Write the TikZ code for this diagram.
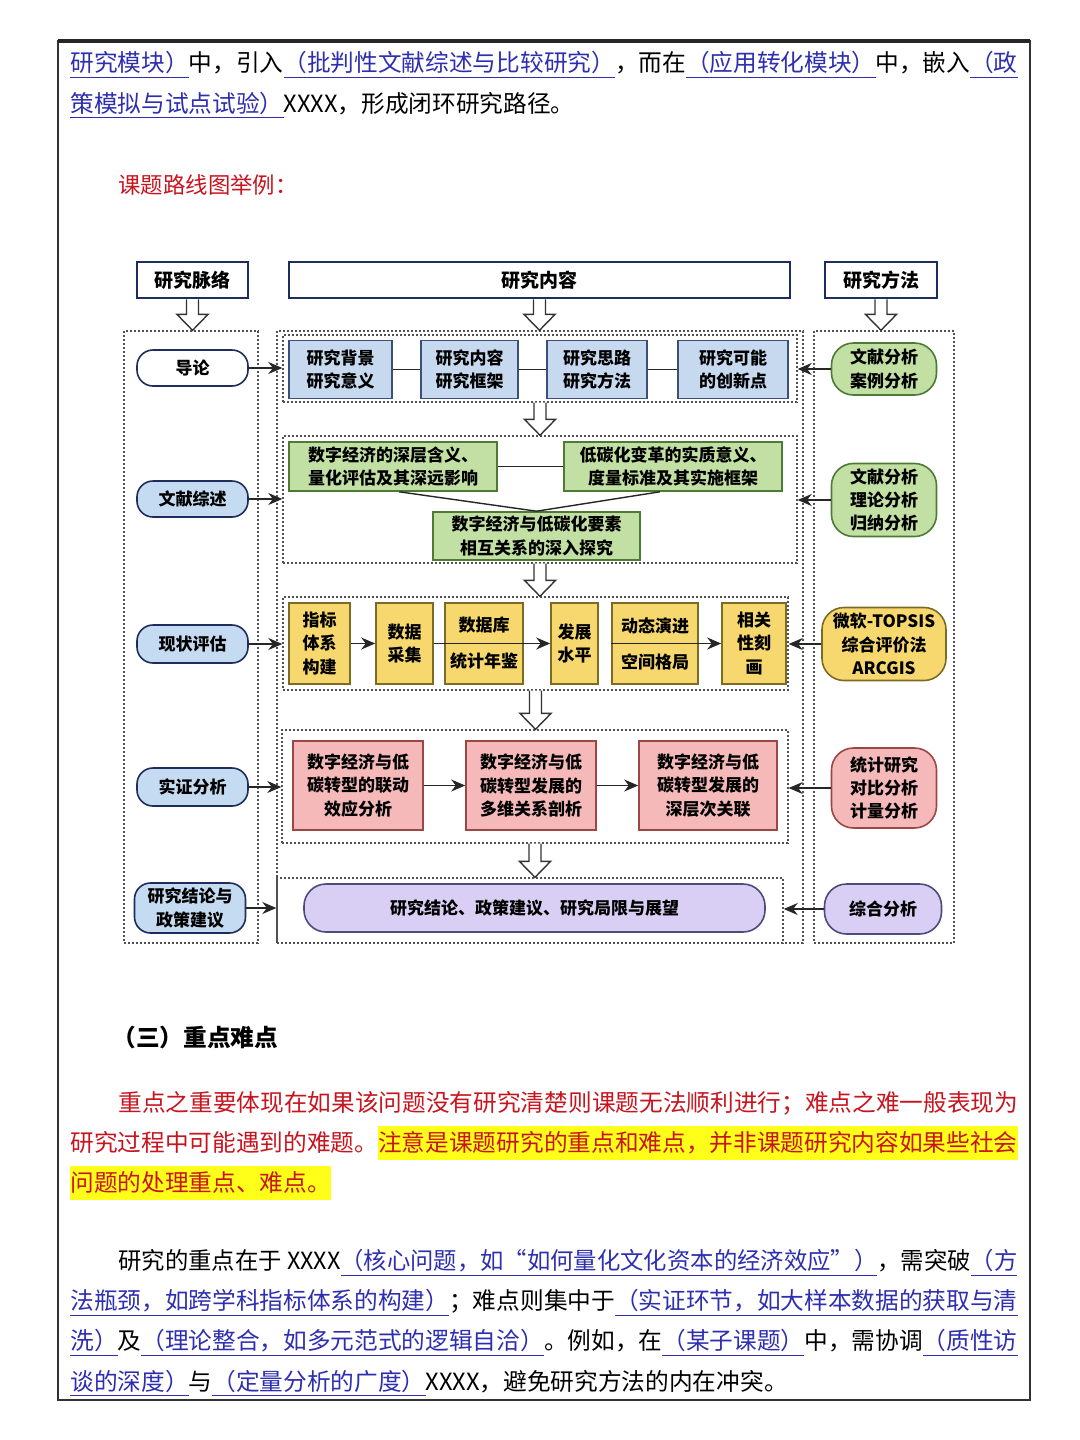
\documentclass[tikz,border=0pt]{standalone}
\usepackage{fontspec}
\setmainfont{Noto Sans CJK SC}
\usepackage{xcolor}
\usepackage{graphicx}
\usetikzlibrary{arrows.meta,calc}

\definecolor{navy}{HTML}{1F2D5C}
\definecolor{lkblue}{HTML}{2E2EB0}
\definecolor{redtxt}{HTML}{C8141E}
\definecolor{hlyellow}{HTML}{FFFF1A}
\definecolor{lnfill}{HTML}{C5DBF1}
\definecolor{bluefill}{HTML}{C6D9EF}
\definecolor{blueline}{HTML}{3A5078}
\definecolor{greenfill}{HTML}{C2E0A4}
\definecolor{greenline}{HTML}{4E7A38}
\definecolor{yelfill}{HTML}{F7D86E}
\definecolor{yelline}{HTML}{7C6B25}
\definecolor{pinkfill}{HTML}{F5B9B9}
\definecolor{pinkline}{HTML}{9C4646}
\definecolor{purfill}{HTML}{D9CEF3}
\definecolor{purline}{HTML}{4E4A7C}
\definecolor{dotgray}{HTML}{505050}

\newcommand{\bodyfont}{\fontsize{11.84}{14}\selectfont}
\newcommand{\hdfont}{\fontsize{9.5}{12}\selectfont\bfseries}
\newcommand{\dgfont}{\fontsize{8.5}{11.6}\selectfont\bfseries}
\newcommand{\lnk}[1]{\textcolor{lkblue}{\underline{#1}}}
\newcommand{\hlbox}[1]{{\setlength{\fboxsep}{0pt}\colorbox{hlyellow}{\rule[-4.5pt]{0pt}{17pt}#1}}}
\newcommand{\hollowdown}[2]{%
  \path[hollow] let \p1=(#1.south), \p2=(#2.north) in
    (\x1-3pt,\y1) -- (\x1-3pt,\y2+8pt) -- (\x1-7.8pt,\y2+8pt) -- (\x1,\y2)
    -- (\x1+7.8pt,\y2+8pt) -- (\x1+3pt,\y2+8pt) -- (\x1+3pt,\y1);}

\begin{document}
\begin{tikzpicture}[x=0.5pt,y=-0.5pt,
    sz/.style 2 args={minimum width=#1*0.5pt,minimum height=#2*0.5pt},
    txt/.style={anchor=west,inner sep=0pt,font=\bodyfont},
    hdbox/.style={draw=navy,line width=1.3pt,fill=white,inner sep=0pt,font=\hdfont},
    grp/.style={draw=dotgray,line width=0.7pt,dash pattern=on 1pt off 1pt,inner sep=0pt},
    lnode/.style={draw=navy,line width=0.8pt,fill=lnfill,rounded corners=8pt,inner sep=0pt,align=center,font=\dgfont},
    rnode/.style={line width=0.8pt,rounded corners=11pt,inner sep=0pt,align=center,font=\dgfont},
    cbox/.style={line width=0.8pt,inner sep=0pt,align=center,font=\dgfont},
    joinline/.style={line width=0.7pt,draw=black!85},
    arr/.style={joinline,-{Stealth[length=7pt,width=6pt]}},
    hollow/.style={draw=black!80,line width=0.7pt,fill=white}]
  % page
  \fill[white] (0,0) rectangle (1080,1440);
  \useasboundingbox (0,0) rectangle (1080,1440);
  \draw[black!80,line width=0.9pt] (58,41) rectangle (1030,1400);
  \draw[black!85,line width=1.6pt] (58,41) -- (1030,41);

  % text above the chart
  \node[txt] (la) at (70,65) {\lnk{研究模块）}中，引入\lnk{（批判性文献综述与比较研究）}，而在\lnk{（应用转化模块）}中，嵌入\lnk{（政}};
  \node[txt] (lb) at (70,105) {\lnk{策模拟与试点试验）}XXXX，形成闭环研究路径。};
  \node[txt,text=redtxt,font=\fontsize{11.2}{14}\selectfont] (ttl) at (118,185) {课题路线图举例：};

  % headers
  \node[hdbox,sz={111}{36}] (hdA) at (192.5,280) {研究脉络};
  \node[hdbox,sz={501}{36}] (hdB) at (539.5,280) {研究内容};
  \node[hdbox,sz={112}{36}] (hdC) at (881,280) {研究方法};

  % dotted columns and groups
  \node[grp,sz={134}{612}] (cL) at (191,637) {};
  \node[grp,sz={526}{612}] (cM) at (540,637) {};
  \node[grp,sz={140}{612}] (cR) at (884,637) {};
  \node[grp,sz={514}{67}] (gpBlue) at (540,368.5) {};
  \node[grp,sz={514}{127}] (gpGreen) at (540,499.5) {};
  \node[grp,sz={505}{93}] (gpYel) at (535.5,643.5) {};
  \node[grp,sz={506}{113}] (gpPink) at (535,786.5) {};
  \node[grp,sz={506}{65}] (gpPur) at (530,910.5) {};

  \hollowdown{hdA}{cL}
  \hollowdown{hdB}{cM}
  \hollowdown{hdC}{cR}
  \hollowdown{gpBlue}{gpGreen}
  \hollowdown{gpGreen}{gpYel}
  \hollowdown{gpYel}{gpPink}
  \hollowdown{gpPink}{gpPur}

  % left column
  \node[lnode,fill=white,sz={111}{36}] (lnA) at (192.5,368) {导论};
  \node[lnode,sz={111}{36}] (lnB) at (192.5,499) {文献综述};
  \node[lnode,sz={111}{38}] (lnC) at (192.5,644) {现状评估};
  \node[lnode,sz={111}{38}] (lnD) at (192.5,787) {实证分析};
  \node[lnode,sz={111}{50}] (lnE) at (190,908) {研究结论与\\政策建议};

  % right column
  \node[rnode,draw=greenline,fill=greenfill,sz={105}{52}] (rnA) at (884,369) {文献分析\\案例分析};
  \node[rnode,draw=greenline,fill=greenfill,sz={105}{73}] (rnB) at (884,500) {文献分析\\理论分析\\归纳分析};
  \node[rnode,draw=yelline,fill=yelfill,sz={124}{73}] (rnC) at (884,644) {微软-TOPSIS\\综合评价法\\ARCGIS};
  \node[rnode,draw=pinkline,fill=pinkfill,sz={105}{80}] (rnD) at (884,788) {统计研究\\对比分析\\计量分析};
  \node[rnode,draw=purline,fill=purfill,sz={117}{50}] (rnE) at (883,909) {综合分析};

  % blue row
  \node[cbox,draw=blueline,fill=bluefill,sz={103}{58}] (bA) at (340.5,369.5) {研究背景\\研究意义};
  \node[cbox,draw=blueline,fill=bluefill,sz={97}{58}] (bB) at (469.5,369.5) {研究内容\\研究框架};
  \node[cbox,draw=blueline,fill=bluefill,sz={100}{58}] (bC) at (597,369.5) {研究思路\\研究方法};
  \node[cbox,draw=blueline,fill=bluefill,sz={110}{58}] (bD) at (733,369.5) {研究可能\\的创新点};
  \draw[joinline] (bA.east) -- (bB.west) (bB.east) -- (bC.west) (bC.east) -- (bD.west);

  % green row
  \node[cbox,draw=greenline,fill=greenfill,sz={208}{49}] (gA) at (393,466.5) {数字经济的深层含义、\\量化评估及其深远影响};
  \node[cbox,draw=greenline,fill=greenfill,sz={218}{49}] (gB) at (673,466.5) {低碳化变革的实质意义、\\度量标准及其实施框架};
  \node[cbox,draw=greenline,fill=greenfill,sz={207}{48}] (gC) at (536.5,536) {数字经济与低碳化要素\\相互关系的深入探究};
  \draw[joinline] (gA.east) -- (gB.west);
  \draw[joinline] ($(gA.south west)!0.53!(gA.south east)$) -- (gC.north);
  \draw[joinline] ($(gB.south west)!0.44!(gB.south east)$) -- (gC.north);

  % yellow row
  \node[cbox,draw=yelline,fill=yelfill,sz={61}{81}] (yA) at (319.5,643.5) {指标\\体系\\构建};
  \node[cbox,draw=yelline,fill=yelfill,sz={57}{81}] (yB) at (404.5,643.5) {数据\\采集};
  \node[cbox,draw=yelline,fill=yelfill,sz={78}{81}] (yC) at (484,643.5) {数据库\\[6.4pt]统计年鉴};
  \node[cbox,draw=yelline,fill=yelfill,sz={47}{81}] (yD) at (574.5,643.5) {发展\\水平};
  \node[cbox,draw=yelline,fill=yelfill,sz={86}{81}] (yE) at (655,643.5) {动态演进\\[6.4pt]空间格局};
  \node[cbox,draw=yelline,fill=yelfill,sz={64}{81}] (yF) at (754,643.5) {相关\\性刻\\画};
  \draw[arr] (yA) -- (yB);
  \draw[arr] (yB.east) -- (yD.west);
  \draw[arr] (yE.west) -- (yF.west);

  % pink row
  \node[cbox,draw=pinkline,fill=pinkfill,sz={130}{89}] (pA) at (358,785.5) {数字经济与低\\碳转型的联动\\效应分析};
  \node[cbox,draw=pinkline,fill=pinkfill,sz={130}{89}] (pB) at (531,785.5) {数字经济与低\\碳转型发展的\\多维关系剖析};
  \node[cbox,draw=pinkline,fill=pinkfill,sz={138}{89}] (pC) at (708,785.5) {数字经济与低\\碳转型发展的\\深层次关联};
  \draw[arr] (pA) -- (pB);
  \draw[arr] (pB) -- (pC);

  % purple row
  \node[cbox,draw=purline,fill=purfill,rounded corners=11pt,sz={461}{48}] (pu) at (534.5,908) {研究结论、政策建议、研究局限与展望};

  % column links
  \draw[arr] (lnA.east) -- (lnA.east -| gpBlue.west);
  \draw[arr] (lnB.east) -- (lnB.east -| gpGreen.west);
  \draw[arr] (lnC.east) -- (lnC.east -| gpYel.west);
  \draw[arr] (lnD.east) -- (lnD.east -| gpPink.west);
  \draw[arr] (lnE.east) -- (lnE.east -| gpPur.west);
  \draw[arr] (rnA.west) -- (rnA.west -| gpBlue.east);
  \draw[arr] (rnB.west) -- (rnB.west -| gpGreen.east);
  \draw[arr] (rnC.west) -- (rnC.west -| gpYel.east);
  \draw[arr] (rnD.west) -- (rnD.west -| gpPink.east);
  \draw[arr] (rnE.west) -- (rnE.west -| gpPur.east);

  % text below the chart
  \node[txt,font=\bodyfont\bfseries] (hd3) at (112,1037) {（三）重点难点};
  \node[txt,text=redtxt] (ra) at (118,1103) {重点之重要体现在如果该问题没有研究清楚则课题无法顺利进行；难点之难一般表现为};
  \node[txt,text=redtxt] (rb) at (70,1143) {研究过程中可能遇到的难题。\hlbox{注意是课题研究的重点和难点，并非课题研究内容如果些社会}};
  \node[txt,text=redtxt] (rc) at (70,1183) {\hlbox{问题的处理重点、难点。}};
  \node[txt] (ka) at (118,1263) {\resizebox{449.5pt}{\height}{研究的重点在于 XXXX\lnk{（核心问题，如“如何量化文化资本的经济效应”）}，需突破\lnk{（方}}};
  \node[txt] (kb) at (70,1303) {\lnk{法瓶颈，如跨学科指标体系的构建）}；难点则集中于\lnk{（实证环节，如大样本数据的获取与清}};
  \node[txt] (kc) at (70,1343) {\lnk{洗）}及\lnk{（理论整合，如多元范式的逻辑自洽）}。例如，在\lnk{（某子课题）}中，需协调\lnk{（质性访}};
  \node[txt] (kd) at (70,1383) {\lnk{谈的深度）}与\lnk{（定量分析的广度）}XXXX，避免研究方法的内在冲突。};
\end{tikzpicture}
\end{document}
